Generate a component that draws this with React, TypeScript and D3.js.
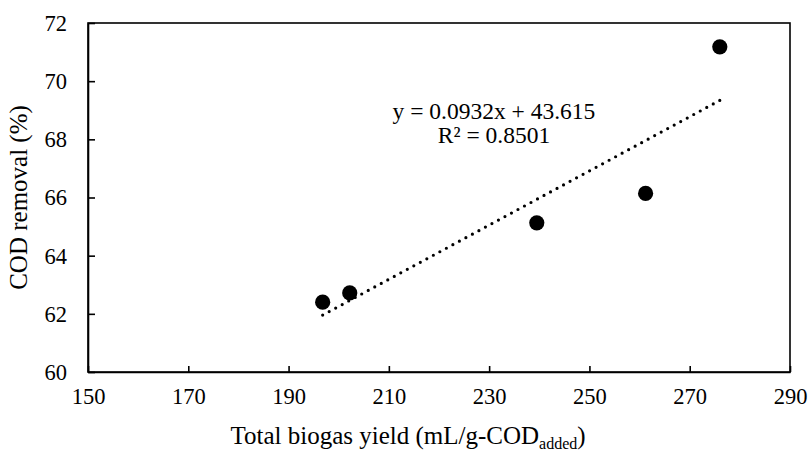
import React, { useEffect, useRef } from "react";
import * as d3 from "d3";

const biogasYield = [196.8, 202.2, 239.5, 261.2, 276.0];
const codRemoval = [62.4, 62.72, 65.13, 66.14, 71.18];
const xTicks = [150, 170, 190, 210, 230, 250, 270, 290];
const yTicks = [60, 62, 64, 66, 68, 70, 72];
const trendSlope = 0.0932;
const trendIntercept = 43.615;
const equationLines = ["y = 0.0932x + 43.615", "R² = 0.8501"];

export default function App() {
  const ref = useRef<SVGSVGElement>(null);

  useEffect(() => {
    const width = 809;
    const height = 452;
    const m = { left: 88, right: 19, top: 23, bottom: 80 };
    const font = "'Liberation Serif', 'Times New Roman', serif";

    const svg = d3.select(ref.current);
    svg.selectAll("*").remove();

    const x = d3.scaleLinear().domain([150, 290]).range([m.left, width - m.right]);
    const y = d3.scaleLinear().domain([60, 72]).range([height - m.bottom, m.top]);

    // frame
    svg
      .append("rect")
      .attr("x", m.left)
      .attr("y", m.top)
      .attr("width", width - m.left - m.right)
      .attr("height", height - m.top - m.bottom)
      .attr("fill", "none")
      .attr("stroke", "#000")
      .attr("stroke-width", 1.6);

    const xAxis = svg
      .append("g")
      .attr("transform", `translate(0,${height - m.bottom})`)
      .call(d3.axisBottom(x).tickValues(xTicks).tickSizeInner(-6).tickSizeOuter(0).tickPadding(14));
    const yAxis = svg
      .append("g")
      .attr("transform", `translate(${m.left},0)`)
      .call(d3.axisLeft(y).tickValues(yTicks).tickSizeInner(-7).tickSizeOuter(0).tickPadding(21));

    [xAxis, yAxis].forEach(g => {
      g.select(".domain").attr("stroke", "#000").attr("stroke-width", 1.6);
      g.selectAll(".tick line").attr("stroke", "#000").attr("stroke-width", 1.6);
      g.selectAll("text")
        .attr("font-family", font)
        .attr("font-size", 22.5)
        .attr("fill", "#000");
    });
    xAxis.selectAll("text").attr("dy", "0.8em");
    yAxis.selectAll("text").attr("dy", "0.33em");

    // trendline
    const xs = d3.extent(biogasYield) as [number, number];
    svg
      .append("line")
      .attr("x1", x(xs[0]))
      .attr("y1", y(trendSlope * xs[0] + trendIntercept))
      .attr("x2", x(xs[1]))
      .attr("y2", y(trendSlope * xs[1] + trendIntercept))
      .attr("stroke", "#000")
      .attr("stroke-width", 3.2)
      .attr("stroke-linecap", "round")
      .attr("stroke-dasharray", "0 7.4");

    // points
    svg
      .append("g")
      .selectAll("circle")
      .data(biogasYield)
      .join("circle")
      .attr("cx", d => x(d))
      .attr("cy", (d, i) => y(codRemoval[i]))
      .attr("r", 7.6)
      .attr("fill", "#000");

    // equation
    svg
      .append("g")
      .attr("font-family", font)
      .attr("font-size", 23.5)
      .attr("text-anchor", "middle")
      .selectAll("text")
      .data(equationLines)
      .join("text")
      .attr("x", 494)
      .attr("y", (d, i) => 119 + i * 24)
      .text(d => d);

    // axis titles
    const xt = svg
      .append("text")
      .attr("x", 408)
      .attr("y", 444)
      .attr("text-anchor", "middle")
      .attr("font-family", font)
      .attr("font-size", 25);
    xt.append("tspan").text("Total biogas yield (mL/g-COD");
    xt.append("tspan").attr("font-size", 16).attr("dy", 5).text("added");
    xt.append("tspan").attr("dy", -5).text(")");

    svg
      .append("text")
      .attr("transform", `translate(27,${(m.top + height - m.bottom) / 2}) rotate(-90)`)
      .attr("text-anchor", "middle")
      .attr("font-family", font)
      .attr("font-size", 25)
      .text("COD removal (%)");
  }, []);

  return (
    <svg
      ref={ref}
      width={809}
      height={452}
      style={{ position: "absolute", left: 0, top: 0, background: "#fff" }}
    />
  );
}
